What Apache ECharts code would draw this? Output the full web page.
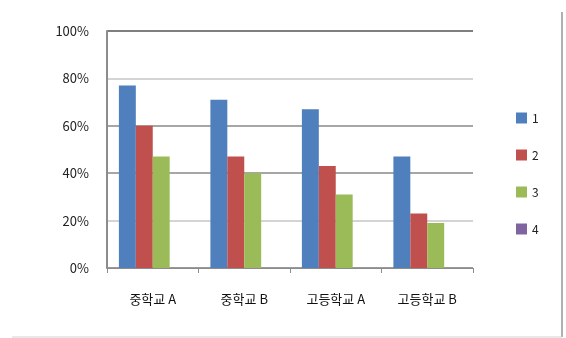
<!DOCTYPE html>
<html>
<head>
<meta charset="utf-8">
<script src="https://cdn.jsdelivr.net/npm/echarts@6/dist/echarts.min.js"></script>
<style>
  html, body { margin: 0; padding: 0; background: #fff; }
  #chart { width: 566px; height: 338px; }
</style>
</head>
<body>
<div id="chart"></div>
<script>
// Category labels, legend names and values (percent)
const categories = ['중학교 A', '중학교 B', '고등학교 A', '고등학교 B'];
const seriesNames = ['1', '2', '3', '4'];
const series1 = [77, 71, 67, 47];
const series2 = [60, 47, 43, 23];
const series3 = [47, 40, 31, 19];
const series4 = [0, 0, 0, 0];
const yTicks = [0, 20, 40, 60, 80, 100];

const colors = ['#4f7fbc', '#c0504d', '#9bbb59', '#8064a2'];
const values = [series1, series2, series3, series4];

const chart = echarts.init(document.getElementById('chart'));
chart.setOption({
  animation: false,
  color: colors,
  textStyle: { fontFamily: 'Noto Sans CJK KR, Noto Sans, sans-serif' },
  grid: { left: 107, right: 93, top: 31, bottom: 70 },
  legend: {
    orient: 'vertical',
    left: 511,
    top: 107,
    itemWidth: 11,
    itemHeight: 11,
    itemGap: 25,
    icon: 'rect',
    textStyle: { fontSize: 12, color: '#222' },
    data: seriesNames
  },
  xAxis: {
    type: 'category',
    data: categories,
    axisLine: { lineStyle: { color: '#8c8c8c', width: 1 } },
    axisTick: { show: true, length: 5, lineStyle: { color: '#8c8c8c' } },
    axisLabel: { fontSize: 13, color: '#111', margin: 25 }
  },
  yAxis: {
    type: 'value',
    min: yTicks[0],
    max: yTicks[yTicks.length - 1],
    interval: 20,
    axisLine: { show: true, lineStyle: { color: '#8c8c8c', width: 2 } },
    axisTick: { show: false },
    axisLabel: { fontSize: 13, color: '#222', margin: 18, formatter: '{value}%' },
    splitLine: {
      show: true,
      lineStyle: { color: ['#999', '#d4d4d4', '#a6a6a6', '#a6a6a6', '#d4d4d4', '#7f7f7f'], width: 2 }
    }
  },
  series: values.map((v, i) => ({
    name: seriesNames[i],
    type: 'bar',
    data: v,
    barGap: '0%',
    barCategoryGap: '26%'
  })),
  graphic: [
    { type: 'line', shape: { x1: 562, y1: 12, x2: 562, y2: 337 }, style: { stroke: '#b0b0b0', lineWidth: 2 } },
    { type: 'line', shape: { x1: 12, y1: 337, x2: 562, y2: 337 }, style: { stroke: '#d0d0d0', lineWidth: 1 } }
  ]
});
</script>
</body>
</html>
